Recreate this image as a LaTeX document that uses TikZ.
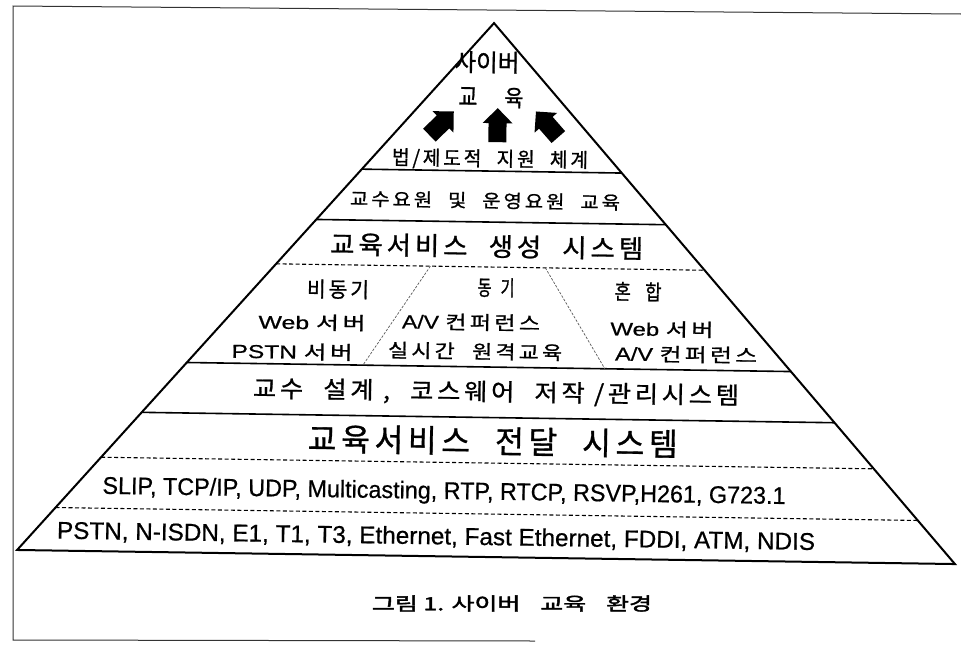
\documentclass[tikz,border=0pt]{standalone}
\usepackage{fontspec}
\usepackage{graphicx}
\usetikzlibrary{calc}
\setmainfont{Liberation Sans}
\newfontfamily\kr[LetterSpace=15,FakeBold=1]{Noto Sans CJK KR}
\newfontfamily\krn[FakeBold=1]{Noto Sans CJK KR}
\newfontfamily\krb[FakeBold=2]{Noto Sans CJK KR}
\newfontfamily\lat[FakeBold=0.6]{Liberation Sans}
\newcommand\fitbox[3]{\resizebox{#1pt}{#2pt}{#3}}
\newcommand\wsp{\hspace{0.8em}}
\begin{document}
\begin{tikzpicture}[x=1pt,y=-1pt,
  pyr/.style={line width=2pt, line join=miter},
  solidsep/.style={line width=1.6pt},
  dashsep/.style={line width=1.1pt, dash pattern=on 4pt off 2.5pt},
  divsep/.style={line width=0.7pt, dash pattern=on 2.5pt off 1.5pt, black!65},
  framel/.style={line width=1pt, black!80},
  lbl/.style={inner sep=0pt, anchor=base},
  fatarrow/.pic={\fill (-9,0) -- (-9,-19) -- (-15,-19) -- (0,-34) -- (15,-19) -- (9,-19) -- (9,0) -- cycle;}]
\useasboundingbox[fill=white] (0,0) rectangle (961,651);
% frame
\coordinate (F1) at (13,6);
\coordinate (F2) at (961,14);
\coordinate (F3) at (13,640);
\coordinate (F4) at (535,641);
\draw[framel] (F2) -- (F1) -- (F3) -- (F4);
\node[lbl] (cap) at (512,610.3) {\fitbox{280}{15}{\krb 그림 1. 사이버\wsp 교육\wsp 환경}};

\begin{scope}[rotate around={-0.86:(485,360)}, transform shape]
\coordinate (A) at (489,23);
\coordinate (BL) at (20,557);
\coordinate (BR) at (958,557);
\draw[pyr] (A) -- (BL) -- (BR) -- cycle;
% separators
\foreach \n/\t/\s in {L1/0.2772/solidsep, L2/0.3727/solidsep, L3/0.4569/dashsep,
                      L4/0.6442/solidsep, L5/0.7388/solidsep, L6/0.8240/dashsep, L7/0.9195/dashsep}{
  \coordinate (\n l) at ($(A)!\t!(BL)$);
  \coordinate (\n r) at ($(A)!\t!(BR)$);
  \draw[\s] (\n l) -- (\n r);
}
% column dividers
\coordinate (D1t) at (429,267);
\coordinate (D1b) at (363,367);
\coordinate (D2t) at (544,267);
\coordinate (D2b) at (605,367);
\draw[divsep] (D1t) -- (D1b);
\draw[divsep] (D2t) -- (D2b);
% top
\node[lbl] (t1) at (482.5,71.4) {\fitbox{65}{20}{\krn 사이버}};
\node[lbl] (t2a) at (464,106) {\fitbox{19}{18.5}{\krn 교}};
\node[lbl] (t2b) at (510,106) {\fitbox{19}{18.5}{\krn 육}};
\pic[rotate=-45] at (426,136) {fatarrow};
\pic at (494,142) {fatarrow};
\pic[rotate=42] at (555,136) {fatarrow};
\node[lbl] (t4) at (487,165.9) {\fitbox{196}{16.5}{\kr 법/제도적\wsp 지원\wsp 체계}};
\node[lbl] (t5) at (482.6,207.3) {\fitbox{270}{15}{\kr 교수요원\wsp 및\wsp 운영요원\wsp 교육}};
\node[lbl] (t6) at (485,255.8) {\fitbox{313}{21}{\kr 교육서비스\wsp 생성\wsp 시스템}};
% columns
\node[lbl] (c1a) at (337,299.4) {\fitbox{62}{17.5}{\kr 비동기}};
\node[lbl] (c1b) at (311.5,331.8) {\fitbox{107}{15}{{\lat Web} {\kr 서버}}};
\node[lbl] (c1c) at (292,361.5) {\fitbox{121}{15.5}{{\lat PSTN} {\kr 서버}}};
\node[lbl] (c2a) at (495,295.4) {\fitbox{37}{17.5}{\krn 동\hspace{0.6em}기}};
\node[lbl] (c2b) at (470.5,329.5) {\fitbox{138}{15.5}{{\lat A/V} {\kr 컨퍼런스}}};
\node[lbl] (c2c) at (475,358.5) {\fitbox{174}{15.5}{\kr 실시간\wsp 원격교육}};
\node[lbl] (c3a) at (637,297.4) {\fitbox{47}{17.5}{\krn 혼\hspace{0.8em}합}};
\node[lbl] (c3b) at (661.5,333.3) {\fitbox{103}{15}{{\lat Web} {\kr 서버}}};
\node[lbl] (c3c) at (686,358.5) {\fitbox{142}{15.5}{{\lat A/V} {\kr 컨퍼런스}}};
% lower rows
\node[lbl] (t16) at (496.5,400.3) {\fitbox{486}{19.5}{\kr 교수\wsp 설계 ,\wsp 코스웨어\wsp 저작 /관리시스템}};
\node[lbl] (t17) at (494,452.9) {\fitbox{370}{26}{\kr 교육서비스\wsp 전달\wsp 시스템}};
\node[lbl] (r1) at (446,499.5) {\fitbox{683}{17.5}{\lat SLIP, TCP/IP, UDP, Multicasting, RTP, RTCP, RSVP,H261, G723.1}};
\node[lbl] (r2) at (438.7,545) {\fitbox{758}{17.5}{\lat PSTN, N-ISDN, E1, T1, T3, Ethernet, Fast Ethernet, FDDI, ATM, NDIS}};
\end{scope}
\end{tikzpicture}
\end{document}
